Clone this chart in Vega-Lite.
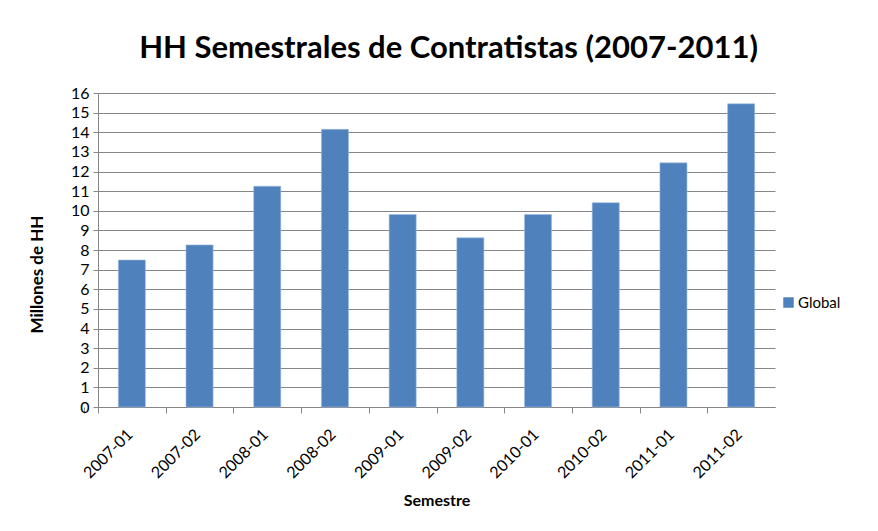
{
  "$schema": "https://vega.github.io/schema/vega-lite/v6.json",
  "width": 677,
  "height": 314,
  "autosize": {"type": "none"},
  "padding": {"left": 98, "top": 93, "right": 103, "bottom": 124},
  "background": "white",
  "title": {
    "text": "HH Semestrales de Contratistas (2007-2011)",
    "font": "Lato",
    "fontSize": 31,
    "fontWeight": "bold",
    "color": "#000000",
    "anchor": "middle",
    "frame": "group",
    "dx": 12,
    "offset": 20
  },
  "data": {
    "values": [
      {"Semestre": "2007-01", "Serie": "Global", "HH": 7.49},
      {"Semestre": "2007-02", "Serie": "Global", "HH": 8.26},
      {"Semestre": "2008-01", "Serie": "Global", "HH": 11.25},
      {"Semestre": "2008-02", "Serie": "Global", "HH": 14.15},
      {"Semestre": "2009-01", "Serie": "Global", "HH": 9.81},
      {"Semestre": "2009-02", "Serie": "Global", "HH": 8.62},
      {"Semestre": "2010-01", "Serie": "Global", "HH": 9.81},
      {"Semestre": "2010-02", "Serie": "Global", "HH": 10.41},
      {"Semestre": "2011-01", "Serie": "Global", "HH": 12.44},
      {"Semestre": "2011-02", "Serie": "Global", "HH": 15.45}
    ]
  },
  "mark": {"type": "bar", "stroke": "#9fbde0", "strokeWidth": 0.6},
  "encoding": {
    "x": {
      "field": "Semestre",
      "type": "nominal",
      "sort": null,
      "scale": {"paddingInner": 0.6, "paddingOuter": 0.3},
      "axis": {
        "title": "Semestre",
        "titleFont": "Lato",
        "titleFontSize": 16,
        "titleFontWeight": "bold",
        "titleColor": "#000000",
        "titlePadding": 12,
        "labelFont": "Lato",
        "labelFontSize": 16,
        "labelColor": "#000000",
        "labelAngle": -45,
        "labelPadding": 13,
        "labelOffset": 26,
        "domainColor": "#868686",
        "tickColor": "#868686",
        "tickOffset": -33.85,
        "tickExtra": true,
        "tickSize": 6,
        "grid": false
      }
    },
    "y": {
      "field": "HH",
      "type": "quantitative",
      "scale": {"domain": [0, 16], "nice": false},
      "axis": {
        "title": "Millones de HH",
        "titleFont": "Lato",
        "titleFontSize": 17,
        "titleFontWeight": "bold",
        "titleColor": "#000000",
        "titlePadding": 24,
        "titleY": 181,
        "values": [0,1,2,3,4,5,6,7,8,9,10,11,12,13,14,15,16],
        "labelFont": "Lato",
        "labelFontSize": 16,
        "labelColor": "#000000",
        "labelPadding": 4,
        "domainColor": "#868686",
        "tickColor": "#868686",
        "tickSize": 5,
        "grid": true,
        "gridColor": "#868686",
        "gridWidth": 1,
        "gridOpacity": 1
      }
    },
    "color": {
      "field": "Serie",
      "type": "nominal",
      "scale": {"range": ["#4f81bd"]},
      "legend": {
        "title": null,
        "orient": "none",
        "legendX": 683,
        "legendY": 202,
        "symbolType": "square",
        "symbolSize": 110,
        "symbolStrokeWidth": 0,
        "labelFont": "Lato",
        "labelFontSize": 15,
        "labelColor": "#000000",
        "labelOffset": 2
      }
    }
  },
  "config": {
    "view": {"stroke": null}
  }
}
